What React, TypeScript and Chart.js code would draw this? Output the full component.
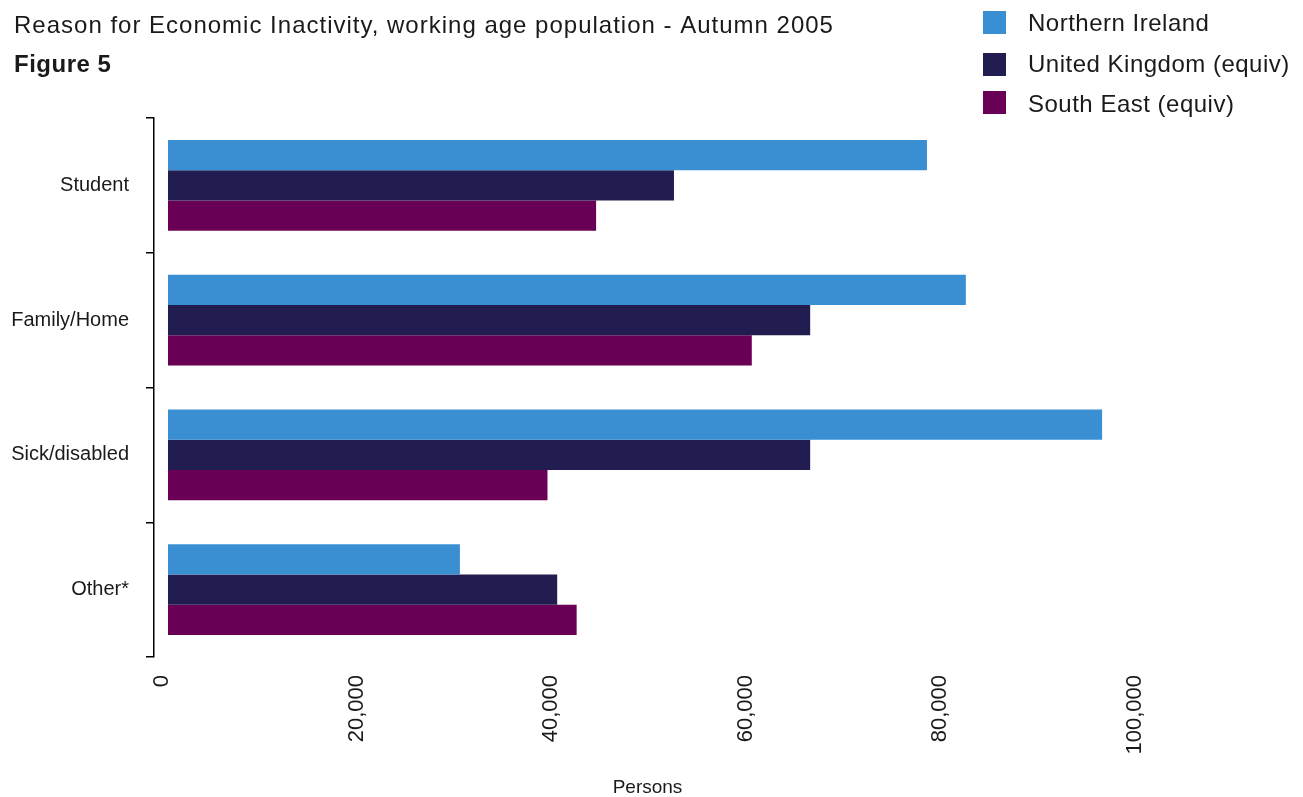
import React, { useEffect, useRef } from 'react';
import { Chart, registerables } from 'chart.js';

Chart.register(...registerables);

const categories = ['Student', 'Family/Home', 'Sick/disabled', 'Other*'];
const seriesNames = ['Northern Ireland', 'United Kingdom (equiv)', 'South East (equiv)'];
const northernIreland = [78000, 82000, 96000, 30000];
const unitedKingdom = [52000, 66000, 66000, 40000];
const southEast = [44000, 60000, 39000, 42000];
const xTickValues = [0, 20000, 40000, 60000, 80000, 100000];
const seriesColors = ['#3A8FD3', '#221D50', '#6A0055'];
const titleText = 'Reason for Economic Inactivity, working age population - Autumn 2005';
const figureText = 'Figure 5';
const xAxisTitle = 'Persons';

const FONT = '"Liberation Sans", Arial, sans-serif';
const TEXT_COLOR = '#1a1a1a';

const headerPlugin = {
  id: 'headerPlugin',
  afterDraw(chart: any) {
    const ctx = chart.ctx as CanvasRenderingContext2D;
    ctx.save();
    ctx.fillStyle = TEXT_COLOR;
    ctx.textAlign = 'left';
    ctx.textBaseline = 'alphabetic';
    try { (ctx as any).letterSpacing = '1px'; } catch (e) {}
    ctx.font = `24px ${FONT}`;
    ctx.fillText(titleText, 14, 33);
    try { (ctx as any).letterSpacing = '0.5px'; } catch (e) {}
    ctx.font = `bold 24px ${FONT}`;
    ctx.fillText(figureText, 14, 72);
    // legend
    const boxTops = [11, 53, 91];
    const baselines = [30.5, 72, 111.5];
    ctx.font = `24px ${FONT}`;
    chart.data.datasets.forEach((ds: any, i: number) => {
      ctx.fillStyle = ds.backgroundColor;
      ctx.fillRect(983, boxTops[i], 23, 23);
      ctx.fillStyle = TEXT_COLOR;
      ctx.fillText(ds.label, 1028, baselines[i]);
    });
    ctx.restore();
  },
};

export default function App() {
  const canvasRef = useRef<HTMLCanvasElement | null>(null);

  useEffect(() => {
    if (!canvasRef.current) return;
    const seriesValues = [northernIreland, unitedKingdom, southEast];
    const chart = new Chart(canvasRef.current, {
      type: 'bar',
      data: {
        labels: categories,
        datasets: seriesNames.map((name, i) => ({
          label: name,
          data: seriesValues[i],
          backgroundColor: seriesColors[i],
          borderWidth: 0,
          categoryPercentage: 0.675,
          barPercentage: 1,
        })),
      },
      options: {
        indexAxis: 'y',
        responsive: false,
        animation: false,
        layout: { padding: { top: 118, right: 162, bottom: 0, left: 0 } },
        plugins: {
          legend: { display: false },
          tooltip: { enabled: false },
          title: { display: false },
        },
        scales: {
          x: {
            type: 'linear',
            min: -1438,
            max: 100000,
            afterBuildTicks: (s: any) => {
              s.ticks = xTickValues.map((v) => ({ value: v }));
            },
            afterFit: (s: any) => {
              s.height = 140;
            },
            grid: { display: false, drawTicks: false },
            border: { display: false },
            ticks: {
              minRotation: 90,
              maxRotation: 90,
              autoSkip: false,
              padding: 18,
              labelOffset: -6,
              color: TEXT_COLOR,
              font: { family: FONT, size: 22 },
              callback: (v: any) => Number(v).toLocaleString('en-US'),
            },
            title: {
              display: true,
              text: xAxisTitle,
              color: TEXT_COLOR,
              font: { family: FONT, size: 19, lineHeight: 1 },
              padding: 0,
            },
          },
          y: {
            afterFit: (s: any) => {
              s.width = 154;
            },
            grid: {
              display: true,
              offset: true,
              drawOnChartArea: false,
              drawTicks: true,
              tickLength: 8,
              color: '#000',
              lineWidth: 1.5,
            },
            border: { display: true, color: '#000', width: 1.5 },
            ticks: {
              padding: 17,
              color: TEXT_COLOR,
              font: { family: FONT, size: 20 },
            },
          },
        },
      },
      plugins: [headerPlugin],
    });
    return () => chart.destroy();
  }, []);

  return (
    <div style={{ position: 'fixed', left: 0, top: 0, width: 1303, height: 797, background: '#fff' }}>
      <canvas ref={canvasRef} width={1303} height={797} style={{ display: 'block', width: 1303, height: 797 }} />
    </div>
  );
}
